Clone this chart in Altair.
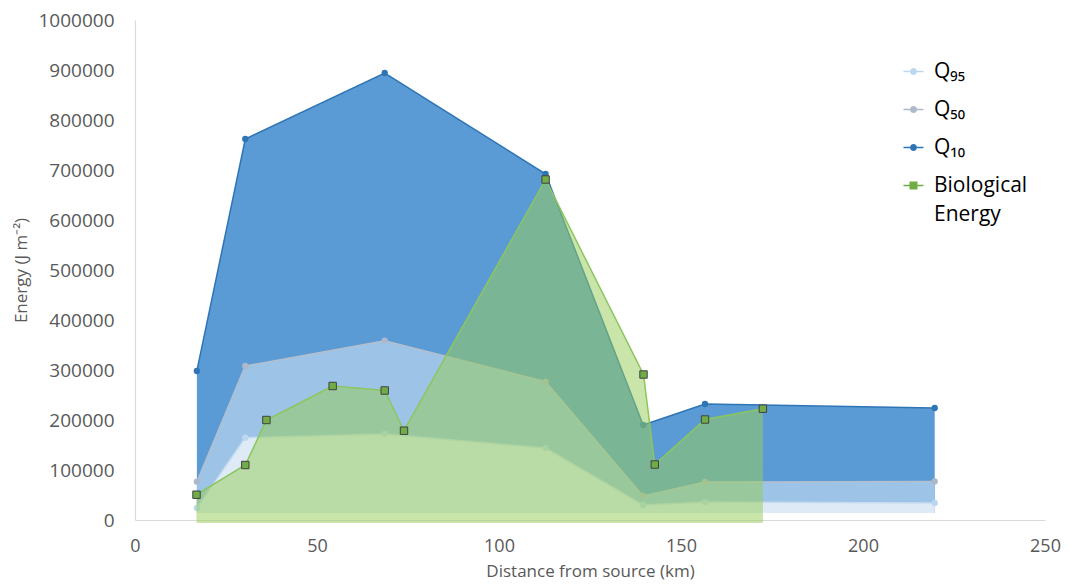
import altair as alt
import pandas as pd

# ---- data ----
x_q = [17, 30.3, 68.6, 112.8, 139.6, 156.6, 219.7]
q10 = [298000, 762000, 894000, 692000, 190000, 232000, 224000]
q50 = [76600, 308000, 358600, 276700, 48000, 76000, 77000]
q95 = [24000, 164700, 172000, 144000, 30000, 36000, 34000]

x_bio = [16.9, 30.3, 36.1, 54.3, 68.6, 73.9, 112.8, 139.7, 142.8, 156.6, 172.5]
bio = [50600, 110000, 200000, 268000, 259000, 178600, 681000, 291000, 111000, 201000, 222600]

series_names = ["Q₉₅", "Q₅₀", "Q₁₀", "Biological Energy"]
marker_colors = ["#BDD7EE", "#ADB9CA", "#2E75B6", "#70AD47"]

q_base = 14000
bio_base = -6000

circle_path = ("M-1,-0.075L1,-0.075L1,0.075L-1,0.075Z "
               "M0.35,0A0.35,0.35 0 1,1 -0.35,0A0.35,0.35 0 1,1 0.35,0Z")
square_path = ("M-1,-0.075L1,-0.075L1,0.075L-1,0.075Z "
               "M-0.4,-0.4L0.4,-0.4L0.4,0.4L-0.4,0.4Z")

def frame(xs, ys, base):
    return pd.DataFrame({"x": xs, "y": ys, "base": [base] * len(xs)})

df_q10 = frame(x_q, q10, q_base)
df_q50 = frame(x_q, q50, q_base)
df_q95 = frame(x_q, q95, q_base)
df_bio = frame(x_bio, bio, bio_base)
legend_df = pd.DataFrame({"series": series_names, "x": [None] * 4, "y": [None] * 4})

X = alt.X("x:Q", scale=alt.Scale(domain=[0, 250], nice=False, zero=False),
          axis=alt.Axis(title="Distance from source (km)", values=[0, 50, 100, 150, 200, 250],
                        labelPadding=17, titlePadding=8, labelFlush=False))
Y = alt.Y("y:Q", scale=alt.Scale(domain=[0, 1000000], nice=False),
          axis=alt.Axis(title="Energy (J m⁻²)", values=list(range(0, 1000001, 100000)),
                        format="d", labelPadding=21, titlePadding=7, labelFlush=False))


def series_layers(df, fill, fill_op, line_color, pt_fill, shape, size, stroke=None):
    area = alt.Chart(df).mark_area(color=fill, opacity=fill_op).encode(x=X, y=Y, y2="base:Q")
    line = alt.Chart(df).mark_line(color=line_color, strokeWidth=1.5).encode(x=X, y=Y)
    pkw = dict(filled=True, shape=shape, size=size, fill=pt_fill, opacity=1)
    if stroke:
        pkw.update(stroke=stroke, strokeWidth=1)
    else:
        pkw.update(strokeWidth=0)
    pts = alt.Chart(df).mark_point(**pkw).encode(x=X, y=Y)
    return [area, line, pts]


layers = []
layers += series_layers(df_q10, "#5B9BD5", 1, "#2E75B6", "#2E75B6", "circle", 40)
layers += series_layers(df_q50, "#9DC3E6", 1, "#B4BFCE", "#ADB9CA", "circle", 40)
layers += series_layers(df_q95, "#DEEBF7", 1, "#C5DBF0", "#BDD7EE", "circle", 40)
layers += series_layers(df_bio, "#97CD5A", 0.52, "#8CC65E", "#70AD47", "square", 55, stroke="#404040")

legend_layer = alt.Chart(legend_df).mark_point(filled=True, opacity=1, size=400).encode(
    x=X, y=Y,
    color=alt.Color("series:N",
                    scale=alt.Scale(domain=series_names, range=marker_colors),
                    legend=alt.Legend(title=None, orient="none", legendX=768, legendY=41,
                                      labelFont="Open Sans", labelFontSize=21, labelColor="#000000",
                                      labelLimit=300, labelOffset=10, rowPadding=16, padding=0,
                                      symbolSize=400, symbolStrokeWidth=0,
                                      labelExpr="datum.label == 'Biological Energy' ? ['Biological', 'Energy'] : datum.label")),
    shape=alt.Shape("series:N",
                    scale=alt.Scale(domain=series_names,
                                    range=[circle_path, circle_path, circle_path, square_path])),
)
layers.append(legend_layer)

chart = alt.layer(*layers).properties(
    width=910, height=500,
    autosize=alt.AutoSizeParams(type="none"),
    padding={"left": 127, "top": 12, "right": 17, "bottom": 62},
).configure(
    style={"guide-label": {"lineHeight": 29}}
).configure_view(stroke=None).configure_axis(
    labelFont="Open Sans", titleFont="Open Sans", labelFontSize=18, titleFontSize=17,
    labelColor="#595959", titleColor="#595959", titleFontWeight="normal",
    grid=False, ticks=False, tickSize=0, domainColor="#D9D9D9", domainWidth=1.2,
).configure_axisY(labelFontSize=19)

chart.save("out.html", embed_options={"renderer": "svg", "actions": False})
